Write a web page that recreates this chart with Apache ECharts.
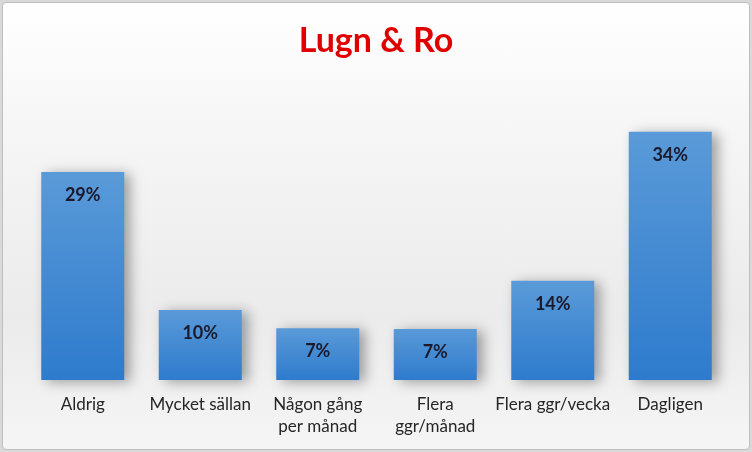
<!DOCTYPE html>
<html><head><meta charset="utf-8">
<script src="https://cdn.jsdelivr.net/npm/echarts@6/dist/echarts.min.js"></script>
<style>
html,body{margin:0;padding:0;background:#d9d9d9;}
#wrap{position:absolute;left:2px;top:2px;width:746px;height:446px;border:1px solid #bfbfbf;border-radius:4px;background:linear-gradient(to bottom,#ffffff 0%,#f7f7f7 25%,#ebebeb 70%,#f5f5f5 100%);overflow:hidden;}
#c{width:752px;height:452px;position:absolute;left:-3px;top:-3px;}
</style></head>
<body><div id="wrap"><div id="c"></div></div>
<script>
const categories = ['Aldrig','Mycket sällan','Någon gång\nper månad','Flera\nggr/månad','Flera ggr/vecka','Dagligen'];
const values = [28.5, 9.6, 7.1, 7.0, 13.6, 34.0];
const title = 'Lugn & Ro';

const chart = echarts.init(document.getElementById('c'));
chart.setOption({
  backgroundColor: 'transparent',
  title: {text: title, left: 'center', top: 19,
    textStyle: {color: '#e00000', fontSize: 34, fontWeight: 'bold', fontFamily: 'Lato, "Open Sans", sans-serif'}},
  grid: {left: 24, right: 23, top: 88, bottom: 72},
  xAxis: {type: 'category', data: categories,
    axisLine: {show: false}, axisTick: {show: false},
    axisLabel: {color: '#262626', fontSize: 17, margin: 14, lineHeight: 22, fontFamily: 'Lato, "Open Sans", sans-serif', interval: 0}},
  yAxis: {type: 'value', min: 0, max: 40, show: false, splitLine: {show: false}},
  series: [{
    type: 'bar', data: values, barWidth: 83,
    itemStyle: {
      color: new echarts.graphic.LinearGradient(0,0,0,1,[{offset:0,color:'#5a9ad8'},{offset:1,color:'#2e7bcd'}]),
      shadowColor: 'rgba(0,0,0,0.35)', shadowBlur: 12, shadowOffsetX: 6, shadowOffsetY: 2
    },
    label: {show: true, position: 'insideTop', distance: 14, color: '#1a1a2c', fontSize: 18, fontWeight: 'bold',
      fontFamily: 'Lato, "Open Sans", sans-serif',
      formatter: p => Math.round(p.value) + '%'}
  }]
});
</script></body></html>
